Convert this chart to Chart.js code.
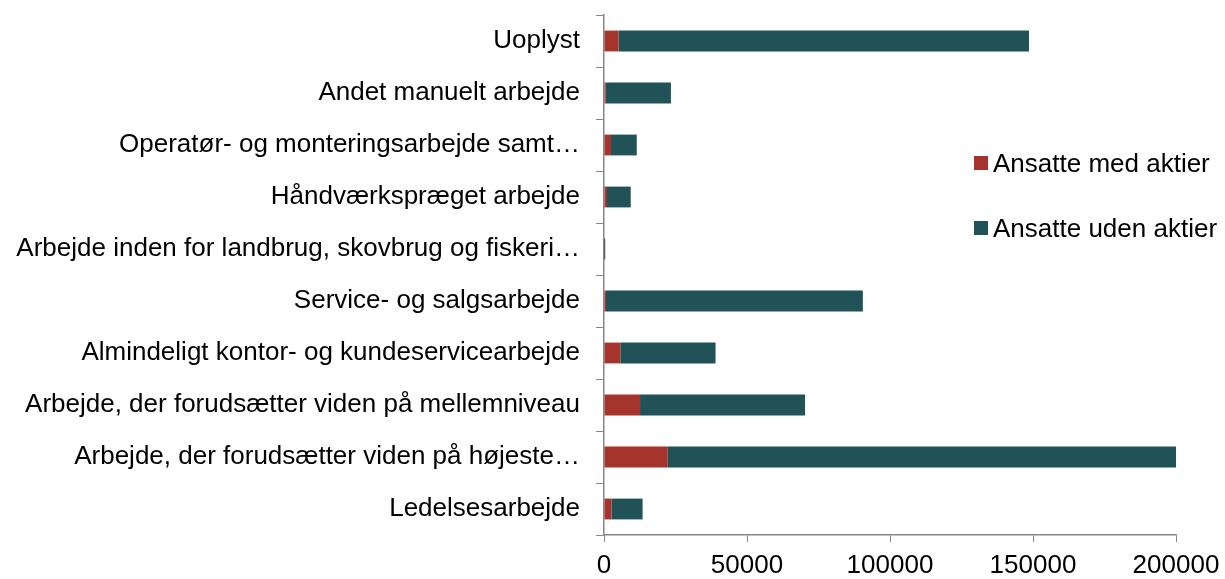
<!DOCTYPE html>
<html>
<head>
<meta charset="utf-8">
<script src="https://cdn.jsdelivr.net/npm/chart.js@4"></script>
<style>
  body { margin: 0; background: #fff; }
  #wrap { position: relative; width: 1225px; height: 579px; }
  #legend { position: absolute; left: 974px; top: 147px; font-family: "Liberation Sans", Arial, sans-serif; font-size: 26px; color: #000; }
  #legend div { display: flex; align-items: center; height: 32px; margin-bottom: 33px; }
  #legend span.box { display: inline-block; width: 14px; height: 14px; margin-right: 5px; }
</style>
</head>
<body>
<div id="wrap">
  <canvas id="myChart" width="1225" height="579"></canvas>
  <div id="legend"></div>
</div>
<script>
// KATEGORIER (top -> bund)
const categories = [
  "Uoplyst",
  "Andet manuelt arbejde",
  "Operatør- og monteringsarbejde samt…",
  "Håndværkspræget arbejde",
  "Arbejde inden for landbrug, skovbrug og fiskeri…",
  "Service- og salgsarbejde",
  "Almindeligt kontor- og kundeservicearbejde",
  "Arbejde, der forudsætter viden på mellemniveau",
  "Arbejde, der forudsætter viden på højeste…",
  "Ledelsesarbejde"
];

const medAktier = [5100, 600, 2450, 1050, 80, 700, 5700, 12600, 22300, 2600];
const udenAktier = [143500, 22800, 9000, 8300, 350, 89800, 33300, 57700, 178200, 10900];

const xTicks = [0, 50000, 100000, 150000, 200000];

const seriesNames = ["Ansatte med aktier", "Ansatte uden aktier"];
const colors = ["#A5342D", "#215257"];

const font = { family: "'Liberation Sans', Arial, sans-serif", size: 26 };

// LEGEND
const legendEl = document.getElementById("legend");
seriesNames.forEach((name, i) => {
  const row = document.createElement("div");
  row.innerHTML = '<span class="box" style="background:' + colors[i] + '"></span>' + name;
  legendEl.appendChild(row);
});

// CHART JS
const ctx = document.getElementById("myChart");

new Chart(ctx, {
  type: "bar",
  data: {
    labels: categories,
    datasets: [
      { label: seriesNames[0], data: medAktier, backgroundColor: colors[0] },
      { label: seriesNames[1], data: udenAktier, backgroundColor: colors[1] }
    ]
  },
  options: {
    indexAxis: "y",
    responsive: false,
    animation: false,
    barPercentage: 0.4,
    categoryPercentage: 1,
    layout: { padding: { top: 15, right: 49, left: 0, bottom: 0 } },
    plugins: {
      legend: { display: false },
      tooltip: { enabled: false }
    },
    scales: {
      x: {
        stacked: true,
        min: 0,
        max: 200000,
        afterBuildTicks: (s) => { s.ticks = xTicks.map((v) => ({ value: v })); },
        afterFit: (s) => { s.height = 44; s.paddingLeft = 0; s.paddingRight = 0; },
        ticks: { font: font, color: "#000", padding: 8, callback: (v) => v },
        grid: { drawOnChartArea: false, tickLength: 7, color: "#868686" },
        border: { color: "#868686", width: 1.5 }
      },
      y: {
        stacked: true,
        afterFit: (s) => { s.width = 604; s.paddingTop = 0; s.paddingBottom = 0; },
        ticks: { font: font, color: "#000", padding: 16, autoSkip: false },
        grid: { drawOnChartArea: false, tickLength: 8, color: "#868686", offset: true },
        border: { color: "#868686", width: 1.5 }
      }
    }
  }
});
</script>
</body>
</html>
